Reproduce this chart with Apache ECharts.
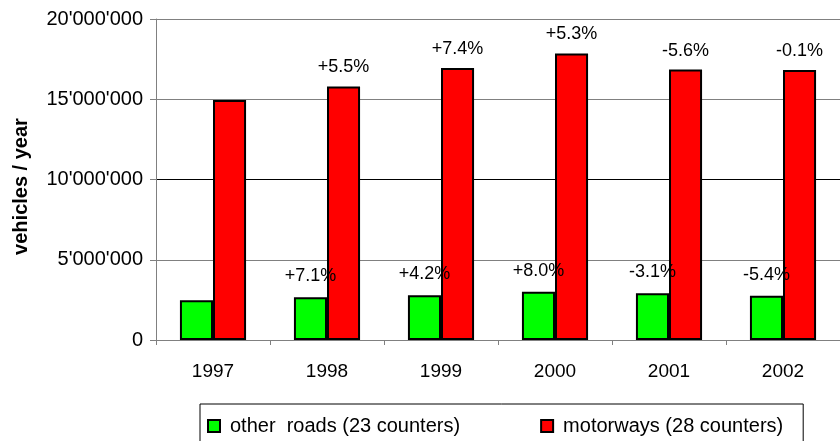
<!DOCTYPE html>
<html><head><meta charset="utf-8">
<script src="https://cdn.jsdelivr.net/npm/echarts@6/dist/echarts.min.js"></script>
<style>html,body{margin:0;padding:0;background:#fff}#c{width:840px;height:441px}</style>
</head><body><div id="c"></div>
<script>
const years = ['1997','1998','1999','2000','2001','2002'];
const otherRoads = [2480000, 2670000, 2790000, 3010000, 2920000, 2760000];
const motorways = [14950000, 15800000, 16950000, 17850000, 16850000, 16830000];
const otherPct = ['', '+7.1%', '+4.2%', '+8.0%', '-3.1%', '-5.4%'];
const motorPct = ['', '+5.5%', '+7.4%', '+5.3%', '-5.6%', '-0.1%'];
const otherName = 'other  roads (23 counters)';
const motorName = 'motorways (28 counters)';

function fmt(v){ return String(v).replace(/\B(?=(\d{3})+(?!\d))/g, "'"); }
const font = 'Liberation Sans, Arial, sans-serif';
const chart = echarts.init(document.getElementById('c'), null, {renderer:'canvas'});
chart.setOption({
  backgroundColor:'#fff',
  animation:false,
  grid:{left:156, top:19, width:692, height:321, containLabel:false},
  legend:{
    left:200, top:404, orient:'horizontal',
    padding:[12, 20, 12, 7], itemGap:80, itemWidth:12, itemHeight:12,
    borderColor:'#000', borderWidth:1,
    textStyle:{fontFamily:font, fontSize:20, color:'#000', padding:[0,0,0,5]},
    data:[{name:otherName, icon:'rect'},{name:motorName, icon:'rect'}]
  },
  xAxis:{
    type:'category', data:years,
    axisLine:{lineStyle:{color:'#808080', width:1}},
    axisTick:{show:true, length:5, lineStyle:{color:'#808080'}},
    axisLabel:{fontFamily:font, fontSize:19, color:'#000', margin:22}
  },
  yAxis:{
    type:'value', min:0, max:20000000, interval:5000000,
    name:'vehicles / year', nameLocation:'middle', nameGap:125,
    nameTextStyle:{fontFamily:font, fontSize:20, fontWeight:'bold', color:'#000', padding:[0,14,0,0]},
    axisLine:{show:true, lineStyle:{color:'#808080'}},
    axisTick:{show:true, length:6, lineStyle:{color:'#808080'}},
    axisLabel:{fontFamily:font, fontSize:20, color:'#000', margin:13, formatter:fmt},
    splitLine:{lineStyle:{color:['#808080','#808080','#000','#808080','#808080'], width:1}}
  },
  series:[
    {name:otherName, type:'bar', data:otherRoads, barGap:'0%', barCategoryGap:'42%',
     itemStyle:{color:'#00ff00', borderColor:'#000', borderWidth:2},
     label:{show:true, position:'top', distance:12, fontFamily:font, fontSize:18, color:'#000',
       formatter:p=>otherPct[p.dataIndex]}},
    {name:motorName, type:'bar', data:motorways, barGap:'0%', barCategoryGap:'42%',
     itemStyle:{color:'#ff0000', borderColor:'#000', borderWidth:2},
     label:{show:true, position:'top', distance:10, fontFamily:font, fontSize:18, color:'#000',
       formatter:p=>motorPct[p.dataIndex]}}
  ]
});
</script></body></html>
